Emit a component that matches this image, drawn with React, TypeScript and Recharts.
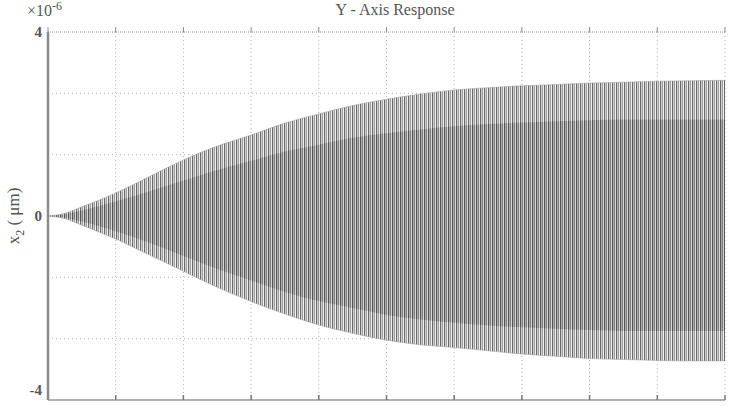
import { ComposedChart, Area, XAxis, YAxis, CartesianGrid } from 'recharts';

// time axis (no labels shown in the figure)
const time = [0, 0.25, 0.5, 1, 1.5, 2, 2.5, 3, 3.5, 4, 4.5, 5, 5.5, 6, 6.5, 7, 7.5, 8, 8.5, 9, 9.5, 10];
// outer envelope of the oscillation (x1e-6)
const upper = [0, 0.06, 0.2, 0.5, 0.86, 1.22, 1.52, 1.76, 2.02, 2.22, 2.4, 2.54, 2.65, 2.74, 2.79, 2.83, 2.86, 2.89, 2.91, 2.93, 2.94, 2.95];
const lower = [0, -0.06, -0.2, -0.5, -0.85, -1.2, -1.55, -1.86, -2.13, -2.37, -2.55, -2.7, -2.8, -2.86, -2.93, -3.0, -3.05, -3.1, -3.12, -3.14, -3.15, -3.15];
// denser core of the beating signal
const innerUpper = [0, 0.04, 0.12, 0.32, 0.54, 0.77, 1.0, 1.2, 1.4, 1.55, 1.7, 1.8, 1.88, 1.95, 2.0, 2.03, 2.06, 2.08, 2.1, 2.1, 2.1, 2.1];
const innerLower = [0, -0.04, -0.12, -0.33, -0.58, -0.87, -1.15, -1.4, -1.65, -1.85, -2.0, -2.15, -2.25, -2.32, -2.38, -2.42, -2.45, -2.48, -2.5, -2.5, -2.5, -2.5];

const xTicks = [0, 1, 2, 3, 4, 5, 6, 7, 8, 9, 10];
const yTicks = [-4, -8 / 3, -4 / 3, 0, 4 / 3, 8 / 3, 4];
const yLabels: Record<string, string> = { '-4': '-4', '0': '0', '4': '4' };

const data = time.map((t, i) => ({
  t,
  band: [lower[i], upper[i]],
  core: [innerLower[i], innerUpper[i]],
}));

const TXT = '#555';
const FONT = '"Liberation Serif", "DejaVu Serif", serif';

const YTick = (props: any) => {
  const { x, y, payload } = props;
  const key = String(Math.round(payload.value * 1000) / 1000);
  const lab = yLabels[key];
  if (!lab) return null;
  const dy = payload.value < -3.9 ? -5 : 5;
  return (
    <text x={x + 2} y={y} dy={dy} textAnchor="end" fontSize={15} fontWeight="bold" fill={TXT} fontFamily={FONT}>
      {lab}
    </text>
  );
};

export default function App() {
  return (
    <div style={{ position: 'absolute', left: 0, top: 0, width: 732, height: 406, background: '#fff', fontFamily: FONT }}>
      <ComposedChart
        width={732}
        height={406}
        data={data}
        margin={{ top: 31, right: 7, left: 0, bottom: 5 }}
        style={{ position: 'absolute', left: 0, top: 0, overflow: 'visible' }}
      >
        <defs>
          <pattern id="osc" width="4" height="8" patternUnits="userSpaceOnUse">
            <rect x="0" y="0" width="4" height="8" fill="#cfcfcf" />
            <rect x="0" y="0" width="1" height="8" fill="#6a6a6a" />
            <rect x="2" y="0" width="1" height="8" fill="#a0a0a0" />
            <rect x="3" y="0" width="1" height="8" fill="#f0f0f0" />
          </pattern>
          <pattern id="core" width="4" height="8" patternUnits="userSpaceOnUse">
            <rect x="0" y="0" width="4" height="8" fill="#8a8a8a" />
            <rect x="0" y="0" width="1" height="8" fill="#3c3c3c" />
            <rect x="2" y="0" width="1" height="8" fill="#5a5a5a" />
            <rect x="3" y="0" width="1" height="8" fill="#bdbdbd" />
          </pattern>
        </defs>
        <CartesianGrid xAxisId="b" yAxisId="l" stroke="#b0b0b0" strokeDasharray="1 3" />
        <XAxis
          xAxisId="b"
          type="number"
          dataKey="t"
          domain={[0, 10]}
          ticks={xTicks}
          interval={0}
          orientation="bottom"
          height={1}
          tickSize={-5}
          tickMargin={0}
          tickFormatter={() => ''}
          axisLine={{ stroke: '#999', strokeWidth: 1.5 }}
          tickLine={{ stroke: '#777', strokeWidth: 1.5 }}
        />
        <XAxis
          xAxisId="t"
          type="number"
          dataKey="t"
          domain={[0, 10]}
          ticks={xTicks}
          interval={0}
          orientation="top"
          height={1}
          tickSize={5}
          tickMargin={0}
          tickFormatter={() => ''}
          axisLine={{ stroke: '#aaa', strokeDasharray: '1 1' }}
          tickLine={{ stroke: '#888' }}
        />
        <YAxis
          yAxisId="l"
          type="number"
          domain={[-4, 4]}
          ticks={yTicks}
          interval={0}
          width={48}
          tick={<YTick />}
          tickLine={false}
          axisLine={{ stroke: '#8a8a8a', strokeWidth: 2.5 }}
        />
        <YAxis
          yAxisId="r"
          orientation="right"
          type="number"
          domain={[-4, 4]}
          ticks={yTicks}
          width={0}
          tick={false}
          tickLine={false}
          axisLine={{ stroke: '#c8c8c8' }}
        />
        <Area
          xAxisId="b"
          yAxisId="l"
          type="monotone"
          dataKey="band"
          stroke="#999"
          strokeWidth={0.5}
          fill="url(#osc)"
          fillOpacity={1}
          isAnimationActive={false}
        />
        <Area
          xAxisId="b"
          yAxisId="l"
          type="monotone"
          dataKey="core"
          stroke="none"
          fill="url(#core)"
          fillOpacity={0.5}
          isAnimationActive={false}
        />
      </ComposedChart>
      <div style={{ position: 'absolute', left: 0, right: 0, top: 1, textAlign: 'center', paddingLeft: 58, fontSize: 16, color: TXT }}>
        Y - Axis Response
      </div>
      <div style={{ position: 'absolute', left: 27, top: -1, fontSize: 16, color: TXT }}>
        ×10<sup style={{ fontSize: 12, verticalAlign: 6 }}>-6</sup>
      </div>
      <div
        style={{
          position: 'absolute', left: 16, top: 216, fontSize: 17, color: TXT, whiteSpace: 'nowrap',
          transform: 'translate(-50%, -50%) rotate(-90deg)',
        }}
      >
        x<sub style={{ fontSize: 12 }}>2</sub> ( μm)
      </div>
    </div>
  );
}
